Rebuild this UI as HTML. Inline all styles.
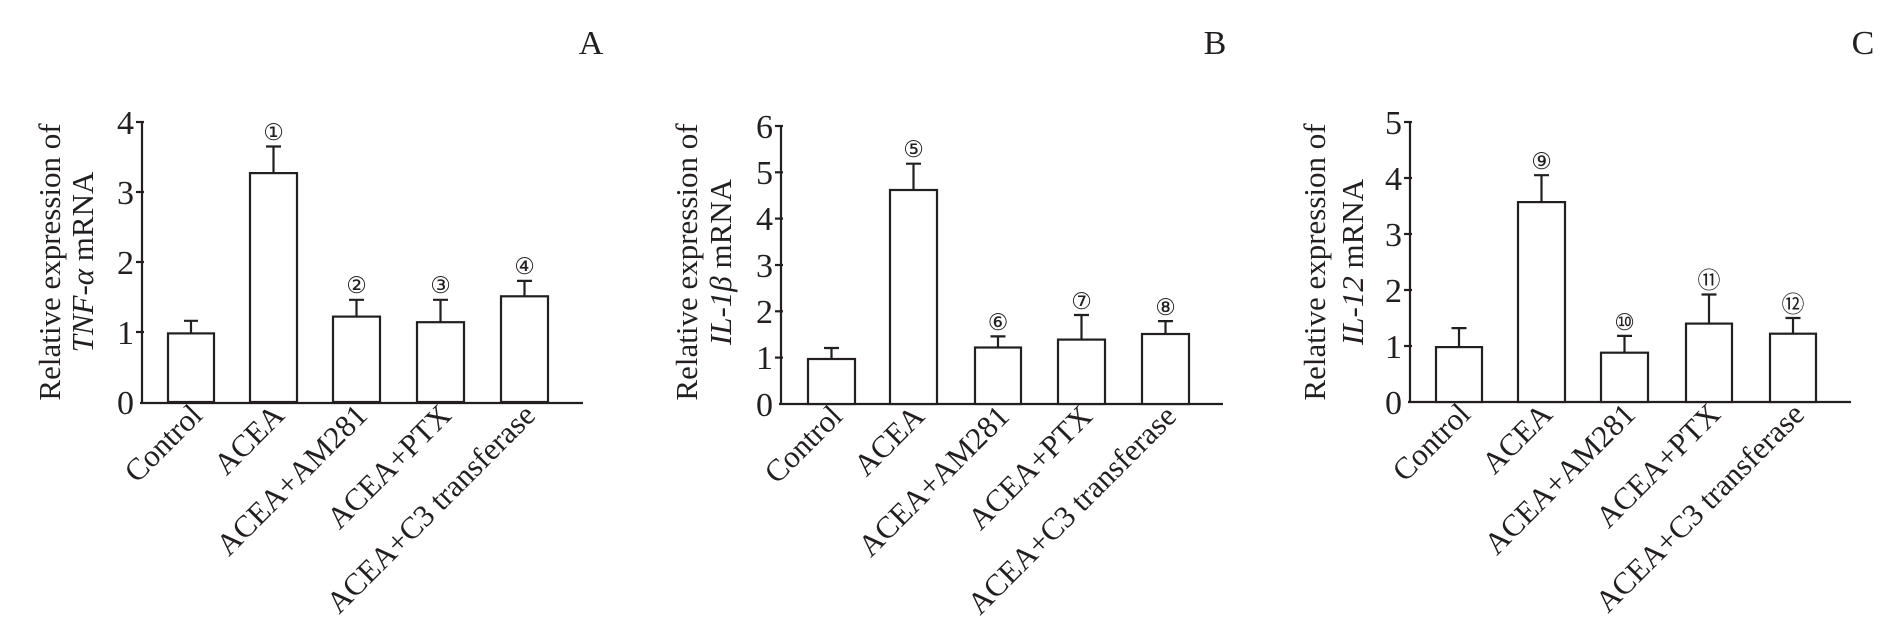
<!DOCTYPE html>
<html><head><meta charset="utf-8"><style>
html,body{margin:0;padding:0;background:#fff;}
svg{display:block;}
text{font-family:"Times New Roman","Liberation Serif",serif;fill:#231f20;}
</style></head><body>
<svg width="1890" height="626" viewBox="0 0 1890 626" xmlns="http://www.w3.org/2000/svg">
<g stroke="#231f20" stroke-width="2.2" fill="#fff">
<!-- Panel A -->
<line x1="142" y1="121" x2="142" y2="403"/>
<line x1="140" y1="403" x2="583" y2="403"/>
<line x1="136" y1="122" x2="144" y2="122"/><line x1="136" y1="192" x2="144" y2="192"/><line x1="136" y1="262" x2="144" y2="262"/><line x1="136" y1="332" x2="144" y2="332"/>
<rect x="168" y="333.4" width="46" height="68.6"/><rect x="250" y="173.1" width="47" height="228.9"/><rect x="333" y="316.6" width="47" height="85.4"/><rect x="417" y="322.2" width="47" height="79.8"/><rect x="501" y="296.3" width="47" height="105.7"/>
<path d="M191 333V320.8M184 320.8H198 M273.5 173V146.5M266 146.5H281 M356.5 316V299.8M349 299.8H364 M440.5 322V299.8M433 299.8H448 M524.5 296V280.9M517 280.9H532" fill="none"/>
<!-- Panel B -->
<line x1="781" y1="125" x2="781" y2="404"/>
<line x1="779" y1="404" x2="1223" y2="404"/>
<line x1="775" y1="126" x2="783" y2="126"/><line x1="775" y1="172.3" x2="783" y2="172.3"/><line x1="775" y1="218.6" x2="783" y2="218.6"/><line x1="775" y1="265" x2="783" y2="265"/><line x1="775" y1="311.3" x2="783" y2="311.3"/><line x1="775" y1="357.6" x2="783" y2="357.6"/>
<rect x="808" y="359" width="47" height="45"/><rect x="890" y="190" width="47" height="214"/><rect x="975" y="347.5" width="46" height="56.5"/><rect x="1058" y="339.6" width="47" height="64.4"/><rect x="1142" y="334" width="47" height="70"/>
<path d="M831.5 359V348M824 348H839 M913.5 190V163.7M906 163.7H921 M998 347.5V336.4M990.5 336.4H1005.5 M1081.5 339.6V315M1074 315H1089 M1165.5 334V321.1M1158 321.1H1173" fill="none"/>
<!-- Panel C -->
<line x1="1410" y1="121" x2="1410" y2="402"/>
<line x1="1408" y1="402" x2="1851" y2="402"/>
<line x1="1404" y1="122" x2="1412" y2="122"/><line x1="1404" y1="178" x2="1412" y2="178"/><line x1="1404" y1="234" x2="1412" y2="234"/><line x1="1404" y1="290" x2="1412" y2="290"/><line x1="1404" y1="346" x2="1412" y2="346"/>
<rect x="1436" y="347.1" width="46" height="54.9"/><rect x="1518" y="202.1" width="47" height="199.9"/><rect x="1601" y="352.7" width="47" height="49.3"/><rect x="1686" y="323.6" width="46" height="78.4"/><rect x="1770" y="333.7" width="46" height="68.3"/>
<path d="M1459 347V328.1M1451.5 328.1H1466.5 M1541.5 202V175.2M1534 175.2H1549 M1624.5 352.7V335.9M1617 335.9H1632 M1709 323.6V294.5M1701.5 294.5H1716.5 M1793 333.7V318M1785.5 318H1800.5" fill="none"/>
</g>
<g font-size="34" text-anchor="end">
<text x="134" y="134">4</text><text x="134" y="204">3</text><text x="134" y="274">2</text><text x="134" y="344">1</text><text x="134" y="414">0</text>
<text x="773" y="138">6</text><text x="773" y="184">5</text><text x="773" y="230">4</text><text x="773" y="277">3</text><text x="773" y="323">2</text><text x="773" y="369">1</text><text x="773" y="416">0</text>
<text x="1402" y="134">5</text><text x="1402" y="190">4</text><text x="1402" y="246">3</text><text x="1402" y="302">2</text><text x="1402" y="358">1</text><text x="1402" y="414">0</text>
</g>
<g font-size="34" text-anchor="middle">
<text x="591" y="54">A</text><text x="1215" y="54">B</text><text x="1863" y="54">C</text>
</g>
<g font-size="23" text-anchor="middle">
<text x="273.5" y="140">①</text><text x="356.5" y="293">②</text><text x="440.5" y="293">③</text><text x="524.5" y="274">④</text>
<text x="913.5" y="157">⑤</text><text x="998" y="330">⑥</text><text x="1081.5" y="309">⑦</text><text x="1165.5" y="315">⑧</text>
<text x="1541.5" y="169">⑨</text><text x="1624.5" y="330">⑩</text><text x="1709" y="288">⑪</text><text x="1793" y="312">⑫</text>
</g>
<g font-size="31" text-anchor="middle">
<text transform="translate(60,262) rotate(-90)">Relative expression of</text>
<text transform="translate(93,262) rotate(-90)"><tspan font-style="italic">TNF-α</tspan> mRNA</text>
<text transform="translate(697,262) rotate(-90)">Relative expression of</text>
<text transform="translate(731,262) rotate(-90)"><tspan font-style="italic">IL-1β</tspan> mRNA</text>
<text transform="translate(1325,262) rotate(-90)">Relative expression of</text>
<text transform="translate(1363,262) rotate(-90)"><tspan font-style="italic">IL-12</tspan> mRNA</text>
</g>
<g font-size="31" text-anchor="end">
<text transform="translate(204,417) rotate(-45)">Control</text>
<text transform="translate(286,417) rotate(-45)">ACEA</text>
<text transform="translate(369,417) rotate(-45)">ACEA+AM281</text>
<text transform="translate(453,417) rotate(-45)">ACEA+PTX</text>
<text transform="translate(537,417) rotate(-45)">ACEA+C3 transferase</text>
<text transform="translate(844,418) rotate(-45)">Control</text>
<text transform="translate(926,418) rotate(-45)">ACEA</text>
<text transform="translate(1011,418) rotate(-45)">ACEA+AM281</text>
<text transform="translate(1094,418) rotate(-45)">ACEA+PTX</text>
<text transform="translate(1178,418) rotate(-45)">ACEA+C3 transferase</text>
<text transform="translate(1472,416) rotate(-45)">Control</text>
<text transform="translate(1554,416) rotate(-45)">ACEA</text>
<text transform="translate(1637,416) rotate(-45)">ACEA+AM281</text>
<text transform="translate(1722,416) rotate(-45)">ACEA+PTX</text>
<text transform="translate(1806,416) rotate(-45)">ACEA+C3 transferase</text>
</g>
</svg>
</body></html>
